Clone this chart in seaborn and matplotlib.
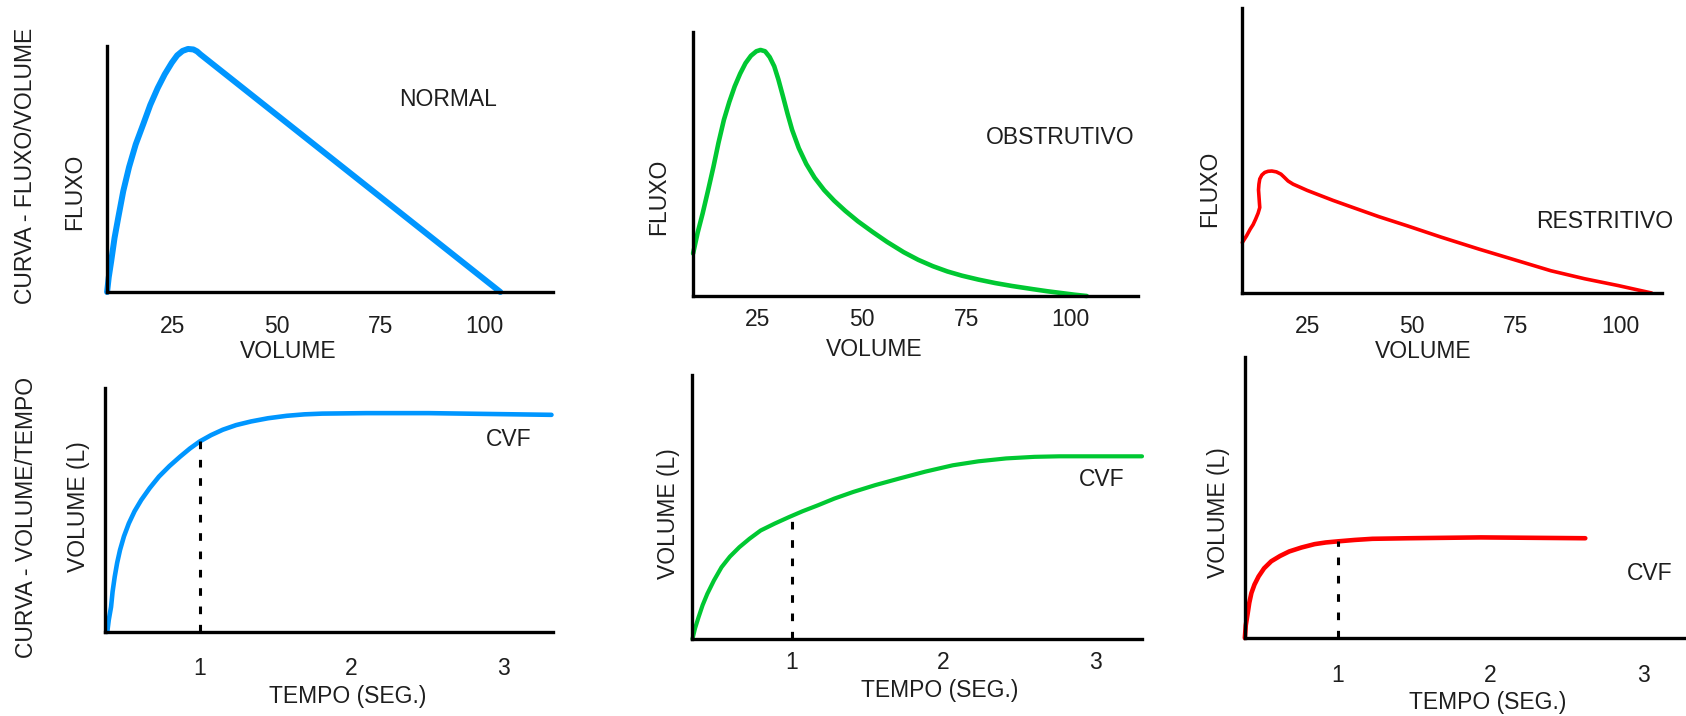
import matplotlib
matplotlib.use("Agg")
import matplotlib.pyplot as plt
import seaborn as sns

# ==================================================
# DATA
# ==================================================

# flow / volume curves (volume in %, flow as fraction of axis height)
normal_fv_volume = [9.1, 9.5, 10.1, 10.9, 11.8, 13.0, 14.4, 16.0, 17.9, 19.5, 21.3,
                    23.0, 24.7, 26.0, 27.3, 28.6, 29.9, 30.8, 31.6, 103.9]
normal_fv_flow = [0.0, 0.06, 0.126, 0.22, 0.303, 0.41, 0.508, 0.60, 0.686, 0.76, 0.829,
                  0.885, 0.932, 0.962, 0.980, 0.988, 0.986, 0.978, 0.966, 0.0]

obstr_fv_volume = [9.4, 10.5, 11.7, 13.0, 14.3, 15.5, 16.8, 18.1, 19.4, 20.7, 22.0,
                   23.3, 24.6, 25.6, 26.7, 27.8, 28.9, 29.9, 31.0, 32.1, 33.2, 34.8,
                   36.6, 38.6, 40.9, 43.3, 46.0, 49.0, 52.5, 56.0, 60.0, 63.5, 67.0,
                   70.5, 74.0, 78.0, 82.0, 86.0, 91.0, 94.5, 98.0, 101.0, 104.0]
obstr_fv_flow = [0.161, 0.24, 0.313, 0.40, 0.490, 0.58, 0.667, 0.735, 0.794, 0.842, 0.882,
                 0.910, 0.927, 0.932, 0.927, 0.905, 0.870, 0.820, 0.756, 0.690, 0.629, 0.560,
                 0.500, 0.448, 0.401, 0.361, 0.322, 0.283, 0.243, 0.205, 0.166, 0.137, 0.113,
                 0.093, 0.077, 0.062, 0.049, 0.038, 0.026, 0.018, 0.011, 0.005, 0.0]

restr_fv_volume = [9.2, 10.2, 11.1, 11.8, 12.4, 13.0, 13.4, 13.3, 13.2, 13.1, 13.2,
                   13.4, 13.9, 14.6, 15.4, 16.3, 17.4, 18.5, 19.3, 20.2, 21.4, 22.8,
                   24.8, 27.1, 31.0, 35.8, 42.0, 48.8, 57.0, 66.1, 75.0, 83.4, 91.5,
                   99.6, 107.6]
restr_fv_flow = [0.177, 0.200, 0.224, 0.240, 0.259, 0.280, 0.300, 0.320, 0.341, 0.362, 0.382,
                 0.400, 0.414, 0.423, 0.427, 0.428, 0.425, 0.417, 0.406, 0.393, 0.382, 0.373,
                 0.360, 0.347, 0.325, 0.300, 0.268, 0.236, 0.196, 0.154, 0.115, 0.078, 0.050,
                 0.026, 0.0]

# volume / time curves (time in s, volume as fraction of axis height)
normal_vt_time = [0.39, 0.40, 0.415, 0.425, 0.439, 0.455, 0.474, 0.50, 0.532, 0.57,
                  0.614, 0.67, 0.731, 0.80, 0.871, 0.935, 1.0, 1.075, 1.152, 1.24,
                  1.339, 1.45, 1.573, 1.69, 1.807, 2.1, 2.509, 3.32]
normal_vt_volume = [0.0, 0.05, 0.103, 0.165, 0.226, 0.283, 0.336, 0.392, 0.445, 0.495,
                    0.541, 0.59, 0.637, 0.68, 0.719, 0.752, 0.781, 0.807, 0.829, 0.848,
                    0.863, 0.876, 0.886, 0.892, 0.895, 0.897, 0.897, 0.890]

obstr_vt_time = [0.343, 0.36, 0.383, 0.41, 0.441, 0.485, 0.535, 0.59, 0.653, 0.72,
                 0.793, 0.885, 0.981, 1.07, 1.169, 1.28, 1.404, 1.55, 1.709, 1.88,
                 2.061, 2.23, 2.413, 2.6, 2.765, 3.31]
obstr_vt_volume = [0.0, 0.04, 0.082, 0.128, 0.171, 0.222, 0.272, 0.312, 0.348, 0.38,
                   0.411, 0.437, 0.462, 0.484, 0.506, 0.532, 0.557, 0.583, 0.608, 0.634,
                   0.658, 0.673, 0.684, 0.690, 0.692, 0.692]

restr_vt_time = [0.389, 0.395, 0.408, 0.418, 0.432, 0.452, 0.479, 0.515, 0.562, 0.62,
                 0.68, 0.76, 0.846, 0.92, 1.0, 1.11, 1.225, 1.46, 1.935, 2.62]
restr_vt_volume = [0.0, 0.045, 0.089, 0.125, 0.160, 0.190, 0.219, 0.248, 0.273, 0.292,
                   0.308, 0.322, 0.334, 0.340, 0.344, 0.349, 0.353, 0.355, 0.358, 0.355]

# volume reached at 1 second (dotted marker)
vef1_normal = 0.781
vef1_obstr = 0.462
vef1_restr = 0.344

volume_ticks = [25, 50, 75, 100]
time_ticks = [1, 2, 3]

# ==================================================
# STYLE
# ==================================================

sns.set_theme(style="white")
plt.rcParams["font.family"] = ["Liberation Sans", "DejaVu Sans"]

W, H = 1686, 716
FS = 16.5
TXT = "#1e1e1e"
BLUE = "#0096FF"
GREEN = "#00C832"
RED = "#FF0000"

fig = plt.figure(figsize=(W / 100, H / 100), dpi=100)


def add_panel(x0, x1, y0, y1, xlim, ticks, pad):
    ax = fig.add_axes([x0 / W, 1 - y1 / H, (x1 - x0) / W, (y1 - y0) / H])
    ax.set_xlim(*xlim)
    ax.set_ylim(0, 1)
    ax.set_xticks(ticks)
    ax.set_xticklabels([str(t) for t in ticks])
    ax.set_yticks([])
    ax.tick_params(axis="x", length=0, pad=pad, labelsize=FS, labelcolor=TXT)
    sns.despine(ax=ax)
    for side in ["left", "bottom"]:
        ax.spines[side].set_linewidth(2.4)
        ax.spines[side].set_color("black")
    ax.patch.set_alpha(0)
    return ax


def label(x, y, s, rot=0):
    # x, y are the pixel centres of the capital letters
    if rot:
        x = x + 2
    else:
        y = y + 2
    fig.text(x / W, 1 - y / H, s, ha="center", va="center",
             rotation=rot, fontsize=FS, color=TXT)


def curve(ax, xs, ys, color, lw):
    sns.lineplot(x=xs, y=ys, ax=ax, color=color, linewidth=lw,
                 sort=False, estimator=None, clip_on=False,
                 solid_capstyle="round", solid_joinstyle="round")


def dotted(ax, t, top):
    ax.plot([t, t], [0, top], color="black", linewidth=2.2,
            linestyle=(0, (2.5, 3.5)), clip_on=False)


# ==================================================
# 1. FLUXO / VOLUME - NORMAL
# ==================================================

ax1 = add_panel(107, 553, 46, 292, (9.08, 116.6), volume_ticks, 16.5)
curve(ax1, normal_fv_volume, normal_fv_flow, BLUE, 4.3)
label(448, 98, "NORMAL")
label(73, 192, "FLUXO", 90)
label(24, 166, "CURVA - FLUXO/VOLUME", 90)
label(288, 350, "VOLUME")

# ==================================================
# 2. FLUXO / VOLUME - OBSTRUTIVO
# ==================================================

ax2 = add_panel(693, 1138, 32, 296, (9.38, 116.3), volume_ticks, 9)
curve(ax2, obstr_fv_volume, obstr_fv_flow, GREEN, 3.3)
label(1060, 136, "OBSTRUTIVO")
label(657, 197, "FLUXO", 90)
label(874, 348, "VOLUME")

# ==================================================
# 3. FLUXO / VOLUME - RESTRITIVO
# ==================================================

ax3 = add_panel(1242, 1662, 8, 293, (9.13, 110.1), volume_ticks, 16)
curve(ax3, restr_fv_volume, restr_fv_flow, RED, 2.6)
label(1605, 220, "RESTRITIVO")
label(1208, 189, "FLUXO", 90)
label(1423, 350, "VOLUME")

# ==================================================
# 4. VOLUME / TEMPO - NORMAL
# ==================================================

ax4 = add_panel(105, 553, 388, 632, (0.375, 3.33), time_ticks, 18)
curve(ax4, normal_vt_time, normal_vt_volume, BLUE, 3.3)
dotted(ax4, 1, vef1_normal)
label(509, 437, "CVF")
label(77, 507, "VOLUME (L)", 90)
label(25, 517, "CURVA - VOLUME/TEMPO", 90)
label(348, 695, "TEMPO (SEG.)")

# ==================================================
# 5. VOLUME / TEMPO - OBSTRUTIVO
# ==================================================

ax5 = add_panel(692, 1142, 375, 639, (0.34, 3.31), time_ticks, 8.5)
curve(ax5, obstr_vt_time, obstr_vt_volume, GREEN, 3.0)
dotted(ax5, 1, vef1_obstr)
label(1102, 478, "CVF")
label(667, 514, "VOLUME (L)", 90)
label(940, 688, "TEMPO (SEG.)")

# ==================================================
# 6. VOLUME / TEMPO - RESTRITIVO
# ==================================================

ax6 = add_panel(1245, 1686, 357, 638, (0.39, 3.28), time_ticks, 19)
curve(ax6, restr_vt_time, restr_vt_volume, RED, 3.3)
dotted(ax6, 1, vef1_restr)
label(1650, 572, "CVF")
label(1216, 513, "VOLUME (L)", 90)
label(1488, 700, "TEMPO (SEG.)")

fig.savefig("out.png", dpi=100, facecolor="white")
plt.close(fig)
